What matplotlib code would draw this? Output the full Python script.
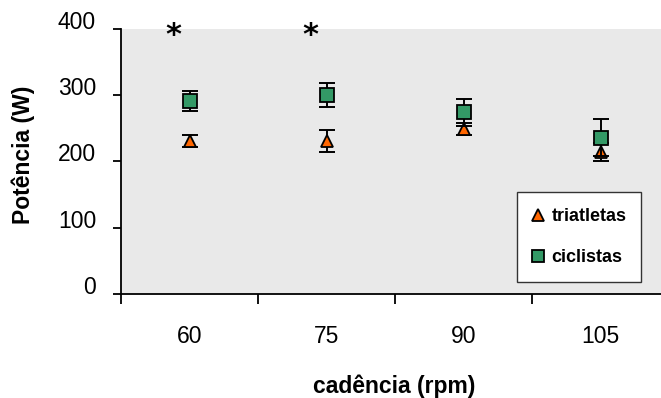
import numpy as np
import matplotlib.pyplot as plt

plt.rcParams['font.family'] = ['Liberation Sans', 'DejaVu Sans']

# Potência média por cadência (média ± desvio)
cadencia = ['60', '75', '90', '105']
triatletas = [231, 231, 249, 214]
triatletas_err = [9, 16, 9, 14]
ciclistas = [291, 301, 274, 236]
ciclistas_err = [15, 18, 21, 28]
# cadências com diferença significativa
signif = ['60', '75']

x = np.arange(1, len(cadencia) + 1)

fig = plt.figure(figsize=(6.61, 3.98), dpi=100)
ax = fig.add_axes([121 / 661, 1 - 294 / 398, 548 / 661, 265 / 398])
ax.set_facecolor('#e9e9e9')

err_kw = dict(fmt='none', ecolor='black', elinewidth=1.4, capsize=5.5, capthick=1.4)
ax.errorbar(x, triatletas, yerr=triatletas_err, zorder=2, **err_kw)
ax.plot(x, triatletas, '^', ms=9, mfc='#ff6600', mec='black', mew=1.3,
        label='triatletas', zorder=3)
ax.errorbar(x, ciclistas, yerr=ciclistas_err, zorder=4, **err_kw)
ax.plot(x, ciclistas, 's', ms=9.5, mfc='#339966', mec='black', mew=1.3,
        label='ciclistas', zorder=5)

for c in signif:
    xi = cadencia.index(c) + 1
    ax.text(xi - 0.12, 390, '*', fontsize=22, fontweight='bold',
            family='DejaVu Sans', ha='center', va='center', clip_on=False)

ax.set_xlim(0.5, len(cadencia) + 0.5)
ax.set_ylim(0, 400)
ax.set_yticks([0, 100, 200, 300, 400])
for lbl in ax.get_yticklabels():
    lbl.set_verticalalignment('baseline')

# category boundaries as major ticks, labels on minor ticks
ax.set_xticks(np.arange(0.5, len(cadencia) + 0.5, 1))
ax.set_xticklabels([])
ax.set_xticks(x, minor=True)
ax.set_xticklabels(cadencia, minor=True)
ax.tick_params(axis='x', which='major', length=7, width=1.3, direction='out')
ax.tick_params(axis='x', which='minor', length=0, pad=22, labelsize=16.5)
ax.tick_params(axis='y', length=6, width=1.3, direction='out', pad=12, labelsize=16.5)

for s in ['top', 'right']:
    ax.spines[s].set_visible(False)
for s in ['left', 'bottom']:
    ax.spines[s].set_linewidth(1.3)

ax.text(0.498, -0.35, 'cadência (rpm)', transform=ax.transAxes, fontsize=16.5,
        fontweight='bold', ha='center', va='center')
ax.text(-0.179, 0.525, 'Potência (W)', transform=ax.transAxes, fontsize=16.5,
        fontweight='bold', ha='center', va='center', rotation=90)

leg = ax.legend(loc='lower left', bbox_to_anchor=(0.7226, 0.045, 0.2263, 0.336),
                mode='expand', borderaxespad=0, fancybox=False, framealpha=1,
                edgecolor='#333333', handlelength=0.5, handletextpad=0.5,
                labelspacing=1.3, borderpad=0.9, numpoints=1,
                prop={'weight': 'bold', 'size': 13})
leg.get_frame().set_linewidth(1.0)
for h in leg.legend_handles:
    h.set_markersize(8.5)

fig.savefig('out.png', dpi=100)
